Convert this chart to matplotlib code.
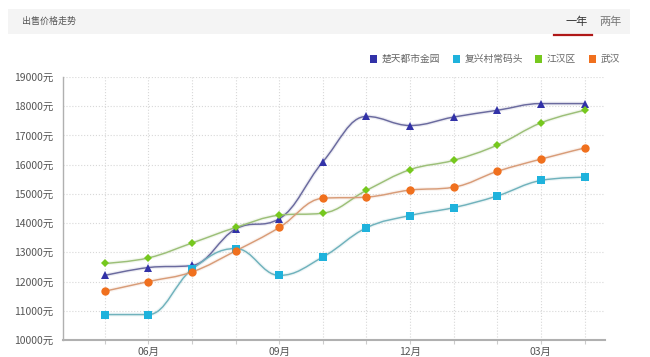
import matplotlib
matplotlib.use("Agg")
import matplotlib.pyplot as plt
from matplotlib.path import Path
from matplotlib.patches import PathPatch, Rectangle
import numpy as np

plt.rcParams['font.family'] = ['Noto Sans CJK SC', 'DejaVu Sans']

months = ['05月', '06月', '07月', '08月', '09月', '10月',
          '11月', '12月', '01月', '02月', '03月', '04月']
shown_ticks = ['06月', '09月', '12月', '03月']

names = ['楚天都市金园', '复兴村常码头', '江汉区', '武汉']
ctdsjy = [12210, 12480, 12550, 13800, 14150, 16100, 17650, 17340, 17630, 17860, 18090, 18090]
fxcmt = [10870, 10870, 12420, 13130, 12210, 12840, 13840, 14260, 14530, 14930, 15460, 15570]
jhq = [12620, 12810, 13320, 13850, 14270, 14340, 15120, 15830, 16150, 16670, 17430, 17860]
wh = [11670, 12000, 12330, 13050, 13850, 14850, 14890, 15130, 15230, 15770, 16190, 16570]

marker_colors = ['#3232a8', '#1fb2dc', '#76c81e', '#f0701e']
line_colors = ['#6a6a9e', '#70b2bc', '#9cbf78', '#d89c78']
markers = ['^', 's', 'D', 'o']
msizes = [5.5, 6, 4, 6]


def spline_path(xs, ys, smoothing=1.5):
    # highcharts style spline control points
    denom = smoothing + 1
    n = len(xs)
    left = [None] * n
    right = [None] * n
    for i in range(n):
        x, y = xs[i], ys[i]
        if i == 0 or i == n - 1:
            left[i] = (x, y)
            right[i] = (x, y)
            continue
        lx, ly = xs[i - 1], ys[i - 1]
        nx, ny = xs[i + 1], ys[i + 1]
        lcx = (smoothing * x + lx) / denom
        lcy = (smoothing * y + ly) / denom
        rcx = (smoothing * x + nx) / denom
        rcy = (smoothing * y + ny) / denom
        if rcx != lcx:
            corr = (rcy - lcy) * (rcx - x) / (rcx - lcx) + y - rcy
            lcy += corr
            rcy += corr
        if lcy > ly and lcy > y:
            lcy = max(ly, y)
            rcy = 2 * y - lcy
        elif lcy < ly and lcy < y:
            lcy = min(ly, y)
            rcy = 2 * y - lcy
        if rcy > ny and rcy > y:
            rcy = max(ny, y)
            lcy = 2 * y - rcy
        elif rcy < ny and rcy < y:
            rcy = min(ny, y)
            lcy = 2 * y - rcy
        left[i] = (lcx, lcy)
        right[i] = (rcx, rcy)
    verts = [(xs[0], ys[0])]
    codes = [Path.MOVETO]
    for i in range(1, n):
        verts += [right[i - 1], left[i], (xs[i], ys[i])]
        codes += [Path.CURVE4] * 3
    return Path(verts, codes)


fig = plt.figure(figsize=(6.5, 3.57), dpi=100)

# header bar
fig.patches.append(Rectangle((8 / 650, 1 - 34 / 357), 622 / 650, 25 / 357,
                             transform=fig.transFigure, facecolor='#f4f4f4',
                             edgecolor='none', zorder=0))
fig.text(22 / 650, 1 - 21.5 / 357, '出售价格走势', fontsize=6.5, color='#555555',
         va='center', ha='left')
fig.text(577 / 650, 1 - 21.5 / 357, '一年', fontsize=8, color='#333333',
         va='center', ha='center')
fig.text(610 / 650, 1 - 21.5 / 357, '两年', fontsize=8, color='#777777',
         va='center', ha='center')
fig.lines.append(plt.Line2D([554 / 650, 592 / 650], [1 - 34.5 / 357] * 2,
                            transform=fig.transFigure, color='#b01818', lw=1.6))

ax = fig.add_axes([63 / 650, 1 - 340 / 357, 542 / 650, 263 / 357])
xs = np.arange(len(months))
series = [ctdsjy, fxcmt, jhq, wh]

for k, vals in enumerate(series):
    p = spline_path(list(xs), list(vals))
    ax.add_patch(PathPatch(p, facecolor='none', edgecolor=line_colors[k],
                           lw=2.8, alpha=0.12, zorder=2))
    ax.add_patch(PathPatch(p, facecolor='none', edgecolor=line_colors[k],
                           lw=1.05, zorder=3))
    ax.plot(xs, vals, linestyle='none', marker=markers[k], ms=msizes[k],
            color=marker_colors[k], markeredgewidth=0, zorder=4)

ax.set_xlim(-0.96, 11.47)
ax.set_ylim(10000, 19000)
ax.set_yticks(np.arange(10000, 19001, 1000))
ax.set_yticklabels([f'{v}元' for v in range(10000, 19001, 1000)],
                   fontsize=7.5, color='#555555')
ax.set_xticks(xs)
ax.set_xticklabels([m if m in shown_ticks else '' for m in months],
                   fontsize=7.5, color='#555555')
ax.tick_params(axis='x', length=3, color='#cccccc', pad=2)
ax.tick_params(axis='y', length=0, pad=7)
ax.grid(True, color='#d8d8d8', linestyle=':', linewidth=0.8)
for s in ['top', 'right']:
    ax.spines[s].set_visible(False)
ax.spines['left'].set_color('#b0b0b0')
ax.spines['bottom'].set_color('#b0b0b0')
ax.spines['bottom'].set_linewidth(1.5)
ax.spines['left'].set_linewidth(1.0)

# legend
leg_x = [373, 456, 538, 592]
for k, name in enumerate(names):
    fig.patches.append(Rectangle(((leg_x[k] - 3.5) / 650, 1 - 62.5 / 357),
                                 7 / 650, 7 / 357, transform=fig.transFigure,
                                 facecolor=marker_colors[k], edgecolor='none'))
    fig.text((leg_x[k] + 9) / 650, 1 - 59 / 357, name, fontsize=7,
             color='#666666', va='center', ha='left')

fig.savefig('out.png', dpi=100, facecolor='white')
